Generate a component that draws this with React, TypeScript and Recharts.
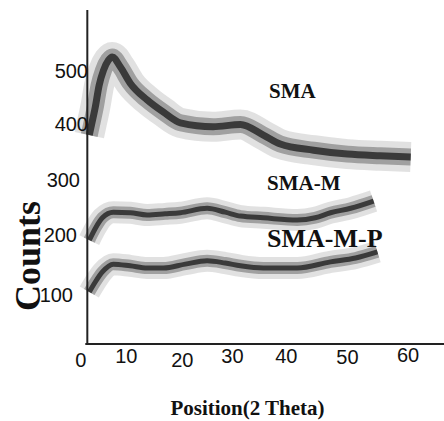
import React from 'react';
import { LineChart, Line, XAxis, YAxis, ReferenceLine } from 'recharts';

// 2-theta positions / counts
const smaTheta = [2.8, 3.2, 3.9, 4.6, 5.4, 6.3, 7.0, 8.5, 10.3, 13.4, 16.4, 19.5, 25.5, 30.5, 34.7, 37.8, 43.9, 50.1, 56.1, 61.7];
const smaCounts = [382, 400, 432, 471, 498, 516, 522, 504, 475, 445, 423, 404, 397, 401, 382, 366, 355, 348, 345, 343];

const smaMTheta = [2.8, 3.9, 5.2, 7.2, 10.3, 13.4, 16.7, 19.5, 24.4, 27.7, 30.5, 34.7, 40.9, 44.2, 47.0, 50.7, 54.9];
const smaMCounts = [194, 215, 234, 244, 243, 239, 241, 243, 251, 244, 237, 234, 230, 234, 243, 251, 264];

const smaMPTheta = [2.8, 3.9, 5.2, 7.2, 10.3, 13.4, 16.4, 20.4, 24.4, 27.7, 30.5, 34.7, 40.9, 47.0, 51.6, 55.6];
const smaMPCounts = [101, 119, 137, 151, 148, 144, 144, 151, 157, 153, 148, 144, 144, 155, 162, 173];

const xTicks = [0, 10, 20, 30, 40, 50, 60];
const yTicks = [100, 200, 300, 400, 500];
const seriesLabels = ['SMA', 'SMA-M', 'SMA-M-P'];
const xTitle = 'Position(2 Theta)';
const yTitle = 'Counts';

const toRows = (t: number[], c: number[]) => t.map((x, i) => ({ x, y: c[i] }));
const smaData = toRows(smaTheta, smaCounts);
const smaMData = toRows(smaMTheta, smaMCounts);
const smaMPData = toRows(smaMPTheta, smaMPCounts);

// label placement quirks of the scanned figure (style only)
const xTickDx: Record<number, number> = { 0: 6.8, 10: -2.2, 20: -0.8, 30: -5.3, 40: -5.9, 50: 0.6, 60: 6.6 };
const xTickBase: Record<number, number> = { 0: 366.5, 10: 363, 20: 367, 30: 362.5, 40: 363, 50: 363.5, 60: 361.5 };
const yTickRight: Record<number, number> = { 500: 88, 400: 88, 300: 80, 200: 77, 100: 73 };
const yTickDy: Record<number, number> = { 500: 1.9, 400: -1, 300: -1.4, 200: -1.8, 100: 2.3 };

const SANS = '"Liberation Sans", Arial, sans-serif';
const SERIF = '"Liberation Serif", "Times New Roman", serif';

const XTick = (props: any) => {
  const v = props.payload.value;
  return (
    <text x={props.x + (xTickDx[v] ?? 0)} y={xTickBase[v] ?? 363} textAnchor="middle" fontFamily={SANS} fontSize={20} fill="#111">
      {v}
    </text>
  );
};

const YTick = (props: any) => {
  const v = props.payload.value;
  return (
    <text x={yTickRight[v] ?? 88} y={props.y + 7 + (yTickDy[v] ?? 0)} textAnchor="end" fontFamily={SANS} fontSize={20} fill="#111">
      {v}
    </text>
  );
};

const bandLayers = (data: any[], key: string, wide: boolean) => [
  <Line key={key + 'a'} data={data} dataKey="y" type="monotone" stroke="#d4d4d4" strokeOpacity={0.7} strokeWidth={wide ? 30 : 22} dot={false} isAnimationActive={false} />,
  <Line key={key + 'b'} data={data} dataKey="y" type="monotone" stroke="#8a8a8a" strokeOpacity={0.75} strokeWidth={wide ? 17 : 12} dot={false} isAnimationActive={false} />,
  <Line key={key + 'c'} data={data} dataKey="y" type="monotone" stroke="#3a3a3a" strokeWidth={wide ? 7 : 5} dot={false} isAnimationActive={false} />,
];

export default function App() {
  return (
    <div style={{ position: 'absolute', left: 0, top: 0, width: 444, height: 421, background: '#fff' }}>
      <LineChart width={444} height={421} margin={{ top: 10, right: 0, bottom: 47, left: 0 }}>
        <XAxis type="number" dataKey="x" domain={[0, 67.8]} ticks={xTicks} height={30} axisLine={false} tickLine={false} tick={<XTick />} allowDuplicatedCategory={false} />
        <YAxis type="number" domain={[8, 606]} ticks={yTicks} width={74} axisLine={false} tickLine={false} tick={<YTick />} />
        {bandLayers(smaData, 'sma', true)}
        {bandLayers(smaMData, 'smam', false)}
        {bandLayers(smaMPData, 'smamp', false)}
        <ReferenceLine x={2.44} stroke="#222" strokeWidth={2} />
        <ReferenceLine segment={[{ x: 2.07, y: 8 }, { x: 67.8, y: 8 }]} stroke="#222" strokeWidth={2} />
      </LineChart>
      <svg width={444} height={421} style={{ position: 'absolute', left: 0, top: 0, pointerEvents: 'none' }}>
        <text x={269} y={98} fontFamily={SERIF} fontWeight="bold" fontSize={21} fill="#111">{seriesLabels[0]}</text>
        <text x={267} y={190} fontFamily={SERIF} fontWeight="bold" fontSize={21} fill="#111">{seriesLabels[1]}</text>
        <text x={267} y={247} fontFamily={SERIF} fontWeight="bold" fontSize={26} fill="#111">{seriesLabels[2]}</text>
        <text x={247.5} y={415} textAnchor="middle" fontFamily={SERIF} fontWeight="bold" fontSize={21} fill="#111">{xTitle}</text>
        <text transform="translate(40,256) rotate(-90)" textAnchor="middle" fontFamily={SERIF} fontWeight="bold" fontSize={36} fill="#111">{yTitle}</text>
      </svg>
    </div>
  );
}
